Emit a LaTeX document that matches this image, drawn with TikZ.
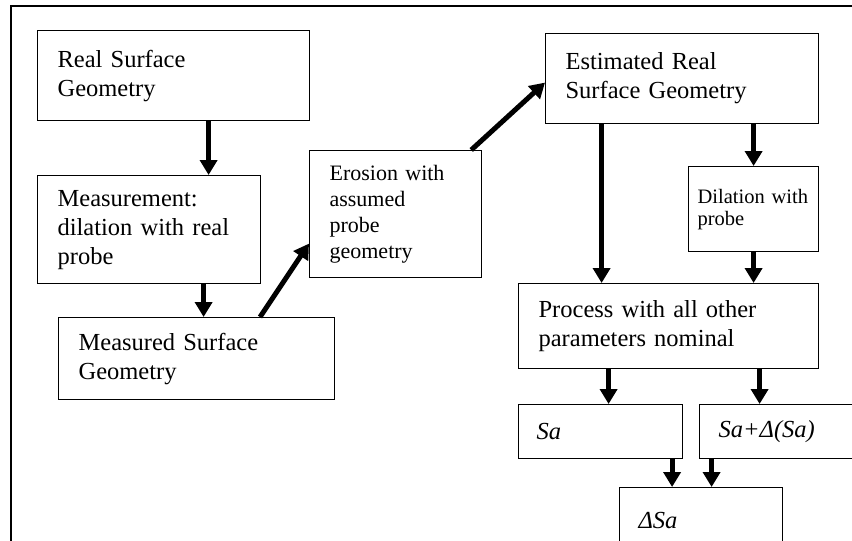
\documentclass[tikz,border=0pt]{standalone}
\usepackage{fontspec}
\setmainfont{Liberation Serif}
\usetikzlibrary{arrows.meta,calc}

\tikzset{
    block/.style={draw, line width=1.2pt, rectangle, anchor=north west, align=left,
        inner xsep=20pt, inner ysep=0pt, font=\fontsize{24.5}{29}\selectfont},
    smallblock/.style={block, font=\fontsize{22}{26}\selectfont},
    flow/.style={line width=5pt, -{Triangle[length=15pt,width=17pt]}}
}

\begin{document}
\begin{tikzpicture}[x=1pt,y=-1pt]

        \useasboundingbox (0,0) rectangle (852,541);

        % Outer frame
        \draw[line width=1.2pt] (11,541) -- (11,6) -- (852,6);

        % Left column
        \node[block, text width=232pt, minimum height=90pt] (real) at (37,30) {Real Surface\\Geometry};
        \node[block, text width=183pt, minimum height=108pt] (meas) at (37,175) {Measurement:\\dilation with real\\probe};
        \node[block, text width=236pt, minimum height=82pt] (measd) at (58,317) {Measured Surface\\Geometry};

        % Middle
        \node[smallblock, text width=132pt, minimum height=127pt] (eros) at (309,150) {Erosion with\\assumed\\probe\\geometry};

        % Right column
        \node[block, text width=233pt, minimum height=90pt] (est) at (545,33) {Estimated Real\\Surface Geometry};
        \node[smallblock, inner xsep=9pt, text width=112pt, minimum height=85pt,
              font=\fontsize{20.5}{22}\selectfont] (dil) at (688,166) {Dilation with\\probe};
        \node[block, text width=260pt, minimum height=85pt] (proc) at (518,283) {Process with all other\\parameters nominal};

        % Results
        \node[block, inner xsep=18pt, text width=128pt, minimum height=54pt] (sa) at (518,404) {\textit{Sa}};
        \node[block, inner xsep=19pt, text width=132pt, minimum height=54pt] (sad) at (699,404) {\textit{Sa+Δ(Sa)}};
        \node[block, inner xsep=19pt, text width=125pt, minimum height=66pt] (dsa) at (619,487) {\textit{ΔSa}};

        % Arrows
        \draw[flow] ([xshift=35pt]real.south) -- ([xshift=35pt]real.south |- meas.north);
        \draw[flow] ([xshift=54.5pt]meas.south) -- ([xshift=54.5pt]meas.south |- measd.north);
        \draw[flow] ([xshift=202pt]measd.north west) -- ([yshift=-29.5pt]eros.west);
        \draw[flow] ([xshift=-11pt]eros.north east) -- ([yshift=-4pt]est.west);
        \draw[flow] ([xshift=-80.5pt]est.south) -- ([xshift=-80.5pt]est.south |- proc.north);
        \draw[flow] (est.south -| dil.north) -- (dil.north);
        \draw[flow] (dil.south) -- (dil.south |- proc.north);
        \draw[flow] ([xshift=8pt]sa.north |- proc.south) -- ([xshift=8pt]sa.north);
        \draw[flow] ([xshift=-25pt]sad.north |- proc.south) -- ([xshift=-25pt]sad.north);
        \draw[flow] ([xshift=-29pt]dsa.north |- sa.south) -- ([xshift=-29pt]dsa.north);
        \draw[flow] ([xshift=10.5pt]dsa.north |- sad.south) -- ([xshift=10.5pt]dsa.north);

    \end{tikzpicture}
\end{document}
